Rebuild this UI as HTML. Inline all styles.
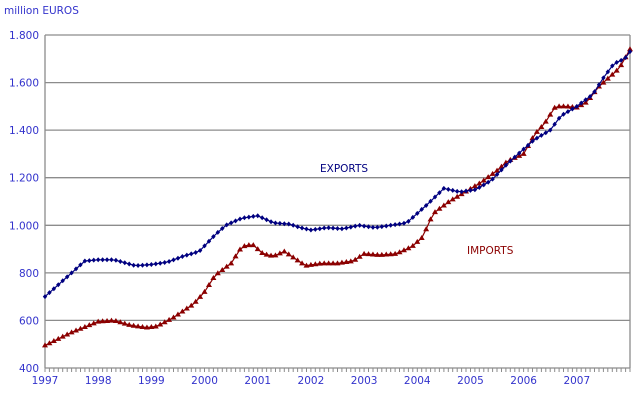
<!DOCTYPE html>
<html><head><meta charset="utf-8"><style>
body{margin:0;background:#fff;}
svg text{font-family:Verdana,"DejaVu Sans","Liberation Sans",sans-serif;font-size:10.5px;fill:#3333cc;}
</style></head><body>
<svg id="s" width="643" height="401" xmlns="http://www.w3.org/2000/svg">
<text x="4" y="14">million EUROS</text>
<g id="g"></g>
</svg>
<script>
const g=document.getElementById('g');
const L=45,R=630,T=35,B=368;
const X=t=>L+(t-1997)/11*(R-L);
const Y=v=>B-(v-400)/1400*(B-T);
let h='';
for(let v=400;v<=1800;v+=200){
 const y=Y(v).toFixed(1);
 if(v>400)h+=`<line x1="${L}" y1="${y}" x2="${R}" y2="${y}" stroke="#8c8c8c" stroke-width="1.3"/>`;
 h+=`<text x="39" y="${+y+4}" text-anchor="end">${v<1000?v:(Math.floor(v/1000)+'.'+String(v%1000).padStart(3,'0'))}</text>`;
}
h+=`<line x1="${L}" y1="${T}" x2="${L}" y2="${B}" stroke="#8c8c8c" stroke-width="1.3"/>`;
h+=`<line x1="${R}" y1="${T}" x2="${R}" y2="${B}" stroke="#8c8c8c" stroke-width="1.3"/>`;
h+=`<line x1="${L}" y1="${B}" x2="${R}" y2="${B}" stroke="#8c8c8c" stroke-width="1.3"/>`;
for(let m=0;m<=132;m++){const x=X(1997+m/12).toFixed(1);h+=`<line x1="${x}" y1="${B}" x2="${x}" y2="${B+4}" stroke="#8c8c8c"/>`;}
for(let yr=1997;yr<=2007;yr++)h+=`<text x="${X(yr)}" y="384" text-anchor="middle">${yr}</text>`;
const E=[[1997,700],[1997.5,800],[1997.75,850],[1998,855],[1998.3,855],[1998.7,830],[1999,835],[1999.3,845],[1999.6,870],[1999.9,890],[2000.2,960],[2000.4,1000],[2000.7,1030],[2001,1040],[2001.3,1010],[2001.6,1005],[2001.8,990],[2002,980],[2002.3,990],[2002.6,985],[2002.9,1000],[2003.2,990],[2003.5,1000],[2003.8,1010],[2004,1050],[2004.2,1090],[2004.5,1155],[2004.8,1140],[2005.1,1150],[2005.4,1190],[2005.7,1260],[2006,1320],[2006.2,1360],[2006.5,1400],[2006.7,1460],[2007,1500],[2007.3,1550],[2007.5,1620],[2007.7,1680],[2007.9,1700],[2008,1730]];
const I=[[1997,495],[1997.5,550],[1998,595],[1998.3,600],[1998.6,580],[1998.9,570],[1999.1,575],[1999.4,610],[1999.8,670],[2000,720],[2000.2,790],[2000.5,840],[2000.7,910],[2000.9,920],[2001.1,880],[2001.3,870],[2001.5,890],[2001.7,860],[2001.9,830],[2002.2,840],[2002.5,840],[2002.8,850],[2003,880],[2003.3,875],[2003.6,880],[2003.9,910],[2004.1,950],[2004.3,1050],[2004.6,1100],[2004.9,1140],[2005.2,1180],[2005.5,1230],[2005.7,1270],[2006,1300],[2006.2,1380],[2006.4,1430],[2006.6,1500],[2006.8,1500],[2007,1495],[2007.2,1520],[2007.4,1580],[2007.6,1620],[2007.8,1660],[2008,1740]];
function interp(P,t){for(let i=0;i<P.length-1;i++){if(t<=P[i+1][0]){const f=(t-P[i][0])/(P[i+1][0]-P[i][0]);return P[i][1]+f*(P[i+1][1]-P[i][1]);}}return P[P.length-1][1];}
function series(P,col,tri){
 let pts=[],mk='';
 for(let m=0;m<=132;m++){const tt=Math.min(1997+m/12,2008);const x=X(tt),y=Y(interp(P,tt));pts.push(x.toFixed(1)+','+y.toFixed(1));
  if(tri)mk+=`<polygon points="${x},${y-3} ${x-3},${y+2} ${x+3},${y+2}" fill="${col}"/>`;
  else mk+=`<polygon points="${x},${y-2.5} ${x+2.2},${y} ${x},${y+2.5} ${x-2.2},${y}" fill="${col}"/>`;}
 return `<polyline points="${pts.join(' ')}" fill="none" stroke="${col}" stroke-width="1.2"/>`+mk;
}
h+=series(I,'#8b0000',true);
h+=series(E,'#000080',false);
h+=`<text x="320" y="172" style="fill:#000080">EXPORTS</text>`;
h+=`<text x="467" y="254" style="fill:#8b0000">IMPORTS</text>`;
g.innerHTML=h;
</script>
</body></html>
